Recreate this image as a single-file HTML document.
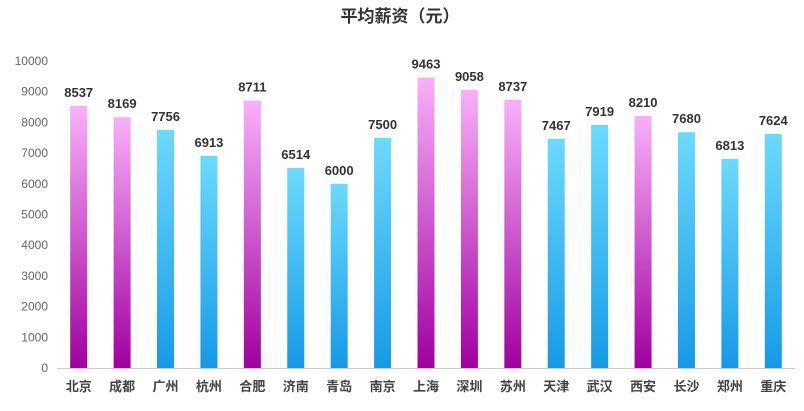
<!DOCTYPE html>
<html><head><meta charset="utf-8">
<style>
body{margin:0;background:#fff;font-family:"Liberation Sans","Noto Sans CJK SC",sans-serif;}
</style></head>
<body>
<svg id="chart" width="804" height="406" xmlns="http://www.w3.org/2000/svg">
<defs>
<linearGradient id="gPink" x1="0" y1="0" x2="0" y2="1"><stop offset="0" stop-color="#f9b0fa"/><stop offset="1" stop-color="#a0009f"/></linearGradient>
<linearGradient id="gBlue" x1="0" y1="0" x2="0" y2="1"><stop offset="0" stop-color="#6ddafd"/><stop offset="1" stop-color="#159ae6"/></linearGradient>
</defs>
<text x="400" y="22" text-anchor="middle" font-size="17" font-weight="bold" fill="#333">平均薪资（元）</text>
<g id="axes"></g><g id="bars"></g>
</svg>
<script>
const categories=["北京","成都","广州","杭州","合肥","济南","青岛","南京","上海","深圳","苏州","天津","武汉","西安","长沙","郑州","重庆"];
const values=[8537,8169,7756,6913,8711,6514,6000,7500,9463,9058,8737,7467,7919,8210,7680,6813,7624];
const highlight=[1,1,0,0,1,0,0,0,1,1,1,0,0,1,0,0,0];
const yTicks=[0,1000,2000,3000,4000,5000,6000,7000,8000,9000,10000];
const NS="http://www.w3.org/2000/svg";
const x0=57,x1=795,yTop=61,yBot=368,yMax=10000;
const band=(x1-x0)/categories.length;
const xC=i=>x0+band*(i+0.5);
const yS=v=>yBot-(v/yMax)*(yBot-yTop);
function mk(t,a,p){const e=document.createElementNS(NS,t);for(const k in a)e.setAttribute(k,a[k]);p.appendChild(e);return e;}
const ax=document.getElementById('axes'),bg=document.getElementById('bars');
yTicks.forEach(v=>{const t=mk('text',{x:48,y:yS(v)+4,'text-anchor':'end','font-size':12,fill:'#666'},ax);


t.textContent=v;});
const axl=mk('line',{x1:x0,x2:x1,y1:yBot+0.5,y2:yBot+0.5,stroke:'#ccc','stroke-width':1},ax);


categories.forEach((c,i)=>{
const t=mk('text',{x:xC(i),y:391,'text-anchor':'middle','font-size':13,'font-weight':'bold',fill:'#444'},ax);


t.textContent=c;
const w=17,y=yS(values[i]);
const r=mk('rect',{x:xC(i)-w/2,y:y,width:w,height:yBot-y,fill:highlight[i]?'url(#gPink)':'url(#gBlue)'},bg);


const l=mk('text',{x:xC(i),y:y-9,'text-anchor':'middle','font-size':13,'font-weight':'bold',fill:'#333'},bg);


l.textContent=values[i];
});
</script>
</body></html>
